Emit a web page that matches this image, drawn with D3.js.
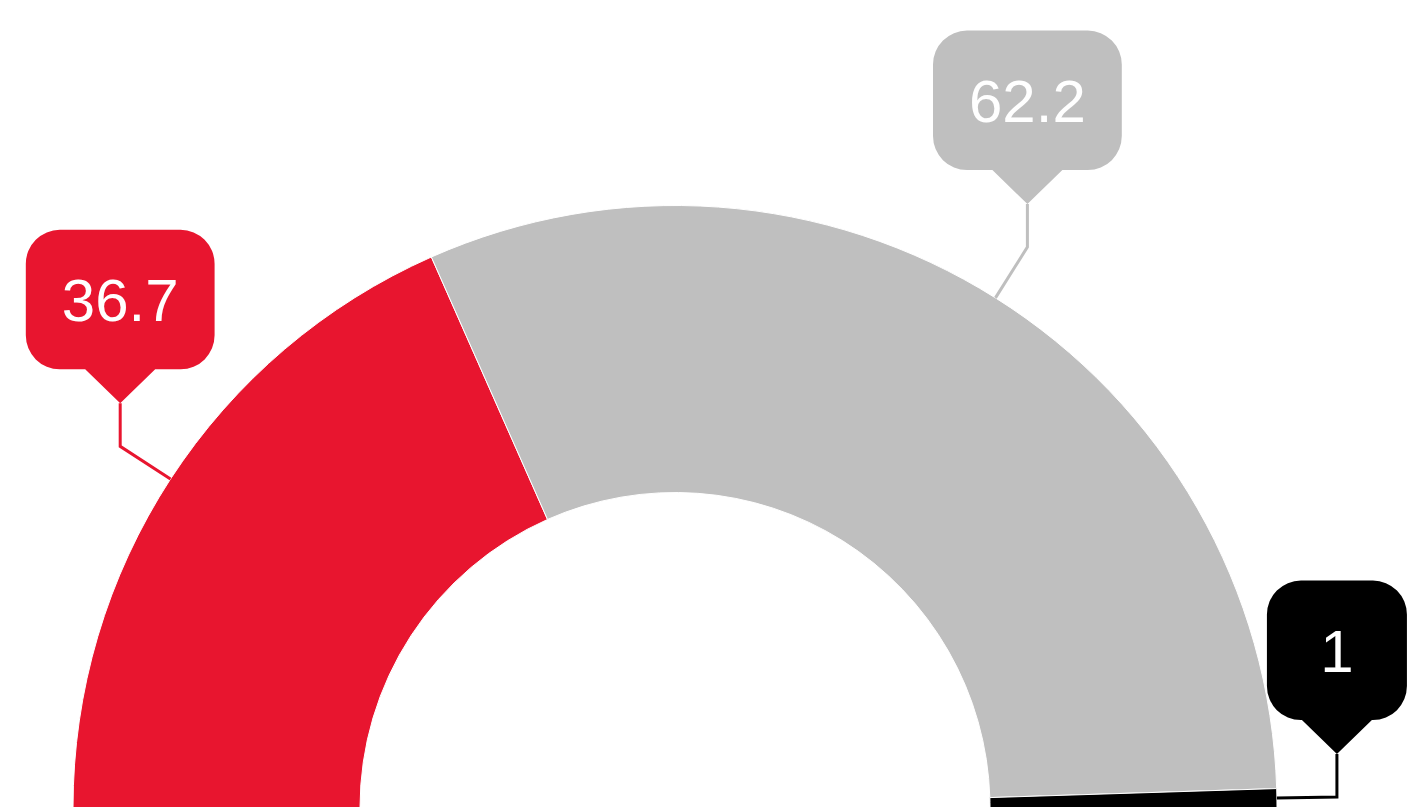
<!DOCTYPE html>
<html>
<head>
<meta charset="utf-8">
<script src="https://cdn.jsdelivr.net/npm/d3@7"></script>
<style>
  html, body { margin: 0; padding: 0; background: #fff; }
  svg { display: block; }
</style>
</head>
<body>
<svg id="chart" width="1412" height="812"></svg>
<script>
const categories = ["A", "B", "C"];
const values = [36.7, 62.2, 1];
const labels = ["36.7", "62.2", "1"];
const colors = ["#e8152f", "#bfbfbf", "#000000"];

const W = 1412, H = 812;
const cx = 675, cy = 807.5;
const outerR = 602, innerR = 315;

const svg = d3.select("#chart");
const g = svg.append("g").attr("transform", `translate(${cx},${cy})`);

const data = categories.map((c, i) => ({ cat: c, value: values[i], label: labels[i], color: colors[i] }));

const pie = d3.pie()
  .sort(null)
  .value(d => d.value)
  .startAngle(-Math.PI / 2)
  .endAngle(Math.PI / 2);

const arcs = pie(data);
const arc = d3.arc().innerRadius(innerR).outerRadius(outerR);

g.selectAll("path.slice")
  .data(arcs)
  .join("path")
  .attr("class", "slice")
  .attr("d", arc)
  .attr("fill", d => d.data.color)
  .attr("stroke", "#fff")
  .attr("stroke-width", 1);

// Callout labels
const ext = 60, vert = 43, triH = 34, triW = 35, boxH = 139.5, rad = 34, fontSize = 60;

const measure = svg.append("text")
  .attr("font-family", "Liberation Sans, Arial, sans-serif")
  .attr("font-size", fontSize)
  .attr("visibility", "hidden");

arcs.forEach(a => {
  const mid = (a.startAngle + a.endAngle) / 2;
  const sx = Math.sin(mid), sy = -Math.cos(mid);
  const p0 = [sx * outerR, sy * outerR];
  const p1 = [sx * (outerR + ext), sy * (outerR + ext)];
  const tip = [p1[0], p1[1] - vert];

  g.append("polyline")
    .attr("points", [p0, p1, tip].map(p => p.join(",")).join(" "))
    .attr("fill", "none")
    .attr("stroke", a.data.color)
    .attr("stroke-width", 3);

  measure.text(a.data.label);
  const tw = measure.node().getComputedTextLength();
  const bw = Math.max(140, tw + 72);
  const bottom = tip[1] - triH;
  const top = bottom - boxH;
  const left = tip[0] - bw / 2, right = tip[0] + bw / 2;

  const path = d3.path();
  path.moveTo(left + rad, top);
  path.lineTo(right - rad, top);
  path.arcTo(right, top, right, top + rad, rad);
  path.lineTo(right, bottom - rad);
  path.arcTo(right, bottom, right - rad, bottom, rad);
  path.lineTo(tip[0] + triW, bottom);
  path.lineTo(tip[0], tip[1]);
  path.lineTo(tip[0] - triW, bottom);
  path.lineTo(left + rad, bottom);
  path.arcTo(left, bottom, left, bottom - rad, rad);
  path.lineTo(left, top + rad);
  path.arcTo(left, top, left + rad, top, rad);
  path.closePath();

  g.append("path")
    .attr("d", path.toString())
    .attr("fill", a.data.color);

  g.append("text")
    .attr("x", tip[0])
    .attr("y", (top + bottom) / 2 + fontSize * 0.716 / 2)
    .attr("text-anchor", "middle")
    .attr("font-family", "Liberation Sans, Arial, sans-serif")
    .attr("font-size", fontSize)
    .attr("fill", "#fff")
    .text(a.data.label);
});
measure.remove();
</script>
</body>
</html>
